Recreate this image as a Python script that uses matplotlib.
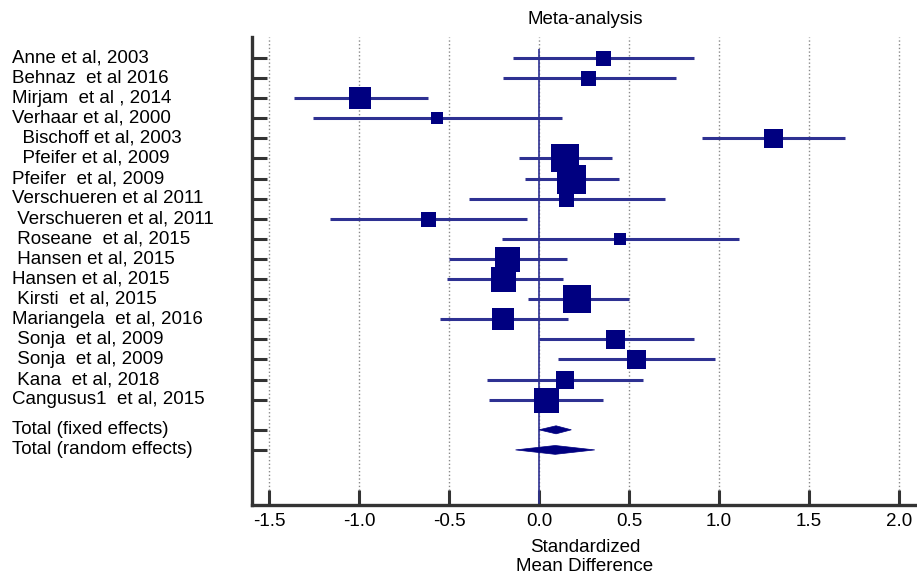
import matplotlib
matplotlib.use("Agg")
import matplotlib.pyplot as plt
import matplotlib.transforms as mtransforms
from matplotlib.patches import Polygon

plt.rcParams['font.family'] = ['Liberation Sans', 'DejaVu Sans']

# study rows, top to bottom
studies = [
    "Anne et al, 2003",
    "Behnaz  et al 2016",
    "Mirjam  et al , 2014",
    "Verhaar et al, 2000",
    "  Bischoff et al, 2003",
    "  Pfeifer et al, 2009",
    "Pfeifer  et al, 2009",
    "Verschueren et al 2011",
    " Verschueren et al, 2011",
    " Roseane  et al, 2015",
    " Hansen et al, 2015",
    "Hansen et al, 2015",
    " Kirsti  et al, 2015",
    "Mariangela  et al, 2016",
    " Sonja  et al, 2009",
    " Sonja  et al, 2009",
    " Kana  et al, 2018",
    "Cangusus1  et al, 2015",
]
smd = [0.355, 0.275, -0.995, -0.565, 1.30, 0.145, 0.18, 0.15, -0.615, 0.45,
       -0.18, -0.20, 0.21, -0.20, 0.42, 0.54, 0.145, 0.04]
ci_low = [-0.145, -0.20, -1.36, -1.255, 0.905, -0.11, -0.08, -0.39, -1.16, -0.205,
          -0.50, -0.51, -0.06, -0.55, 0.0, 0.105, -0.29, -0.28]
ci_high = [0.86, 0.76, -0.615, 0.13, 1.70, 0.405, 0.445, 0.70, -0.065, 1.11,
           0.155, 0.135, 0.50, 0.16, 0.86, 0.98, 0.58, 0.355]
# relative study weight (drawn as square size)
weight = [15, 15, 22, 12, 19, 28, 29, 15, 15, 12, 25, 25, 28, 22, 19, 19, 18, 25]

pooled_labels = ["Total (fixed effects)", "Total (random effects)"]
pooled_est = [0.095, 0.09]
pooled_low = [0.0, -0.13]
pooled_high = [0.18, 0.31]

xticks = [-1.5, -1.0, -0.5, 0.0, 0.5, 1.0, 1.5, 2.0]

SQ = "#000080"
LN = "#2E3192"
FS = 13.5

fig = plt.figure(figsize=(9.17, 5.76), dpi=100)
ax = fig.add_axes([252 / 917, 1 - 505 / 576, 1 - 252 / 917, (505 - 37) / 576])

n = len(studies)
ys = list(range(n))
pooled_y = [n + 0.5, n + 1.5]

ax.set_xlim(-1.594, 2.1)
ax.set_ylim(22.24, -1.04)

ax.grid(axis="x", linestyle=":", color="#8a8a8a", linewidth=1.0)
ax.set_axisbelow(True)

ax.vlines(0, -0.45, 22.24, color=LN, linewidth=1.2, zorder=2)

for y, m, lo, hi, w in zip(ys, smd, ci_low, ci_high, weight):
    ax.plot([lo, hi], [y, y], color=LN, linewidth=2.2, solid_capstyle="butt", zorder=3)
    ax.plot(m, y, marker="s", markersize=w * 0.72, color=SQ, markeredgewidth=0, zorder=4)

for y, m, lo, hi, h in zip(pooled_y, pooled_est, pooled_low, pooled_high, [0.2, 0.22]):
    ax.add_patch(Polygon([(lo, y), (m, y - h), (hi, y), (m, y + h)],
                         closed=True, facecolor=SQ, edgecolor=SQ, linewidth=0.5, zorder=4))

ax.set_xticks(xticks)
ax.set_xticklabels([f"{t:.1f}" for t in xticks], fontsize=FS)
ax.set_yticks(ys + pooled_y)
ax.set_yticklabels([])
ax.tick_params(axis="y", direction="in", length=11, width=2.2, color="#333333")
ax.tick_params(axis="x", direction="in", length=11, width=2.2, color="#333333", pad=6)

for side in ("top", "right"):
    ax.spines[side].set_visible(False)
for side in ("left", "bottom"):
    ax.spines[side].set_linewidth(2.4)
    ax.spines[side].set_color("#333333")

trans = mtransforms.blended_transform_factory(fig.transFigure, ax.transData)
for y, lab in zip(ys + pooled_y, studies + pooled_labels):
    ax.text(12 / 917, y, lab, transform=trans, ha="left", va="center", fontsize=FS, clip_on=False)

fig.text(585 / 917, 1 - 19 / 576, "Meta-analysis", ha="center", va="center", fontsize=FS)
fig.text(585 / 917, 1 - 557 / 576, "Standardized\nMean Difference", ha="center", va="center",
         fontsize=FS, linespacing=1.2)

fig.savefig("out.png", dpi=100)
